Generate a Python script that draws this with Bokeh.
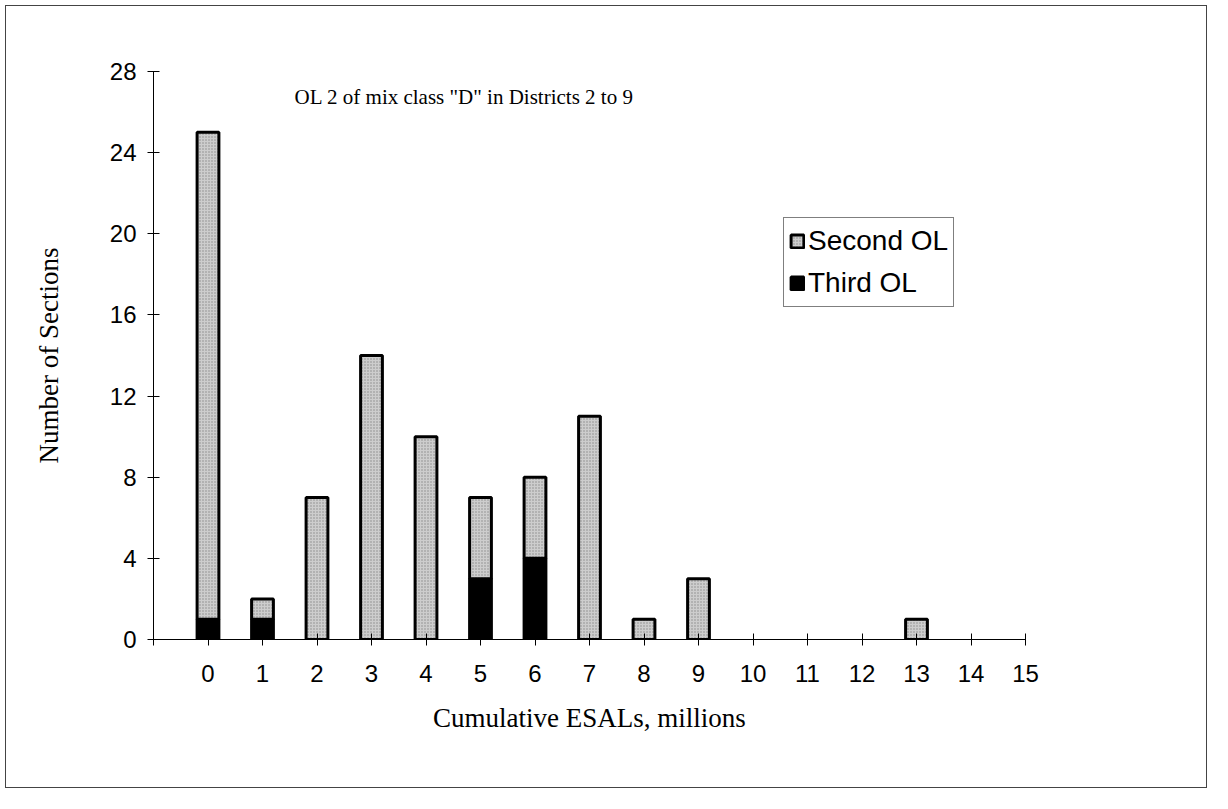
from bokeh.plotting import figure
from bokeh.models import (ColumnDataSource, Range1d, FixedTicker, Label, Legend, LegendItem)
from bokeh.embed import file_html
from bokeh.resources import INLINE

# ---- data ----
esals = [0, 1, 2, 3, 4, 5, 6, 7, 8, 9, 13]
third_ol = [1, 1, 0, 0, 0, 3, 4, 0, 0, 0, 0]
second_ol = [24, 1, 7, 14, 10, 4, 4, 11, 1, 3, 1]
x_ticks = list(range(0, 16))
y_ticks = [0, 4, 8, 12, 16, 20, 24, 28]
title_text = 'OL 2 of mix class "D" in Districts 2 to 9'
x_label = "Cumulative ESALs, millions"
y_label = "Number of Sections"

src = ColumnDataSource(dict(x=esals, third=third_ol, second=second_ol))

M = 6
W, H = 1200, 781
p = figure(width=W, height=H, output_backend="svg", toolbar_location=None,
           x_range=Range1d(-1, 15), y_range=Range1d(0, 28),
           min_border_left=153 - M, min_border_right=(W + M) - 1025,
           min_border_top=71 - M, min_border_bottom=(H + M) - 639)
p.margin = (M, M, M, M)
p.outline_line_color = None
p.xgrid.visible = False
p.ygrid.visible = False
p.styles = {"outline": "1px solid #444", "outline-offset": "0px"}

renderers = p.vbar_stack(["third", "second"], x="x", width=0.40, source=src,
                         fill_color=["black", "#cdcdcd"], line_color="black",
                         line_width=3)
r_second = renderers[1]
r_second.glyph.hatch_pattern = "dot"
r_second.glyph.hatch_color = "#8a8a8a"
r_second.glyph.hatch_scale = 3
r_second.glyph.hatch_weight = 1

legend = Legend(items=[LegendItem(label="Second OL", renderers=[renderers[1]]),
                       LegendItem(label="Third OL", renderers=[renderers[0]])],
                location=(630, 332))
legend.label_text_font = "Liberation Sans"
legend.label_text_font_size = "28px"
legend.label_text_color = "black"
legend.glyph_width = 16
legend.glyph_height = 16
legend.label_standoff = 3
legend.label_height = 36
legend.spacing = 6
legend.padding = 5
legend.margin = 0
legend.border_line_color = "black"
legend.border_line_width = 1
legend.background_fill_alpha = 1
p.add_layout(legend)

# axes
for ax in (p.xaxis[0], p.yaxis[0]):
    ax.axis_line_color = "black"
    ax.major_tick_line_color = "black"
    ax.minor_tick_line_color = None
    ax.major_tick_in = 6
    ax.major_tick_out = 6
    ax.major_label_text_font = "Liberation Sans"
    ax.major_label_text_font_size = "24px"
    ax.major_label_text_color = "black"
    ax.axis_label_text_font = "Liberation Serif"
    ax.axis_label_text_font_size = "27px"
    ax.axis_label_text_font_style = "normal"
    ax.axis_label_text_color = "black"

p.xaxis.ticker = FixedTicker(ticks=[-1] + x_ticks)
p.xaxis.major_label_overrides = {-1: ""}
p.xaxis.major_label_standoff = 19
p.xaxis.axis_label = x_label
p.xaxis.axis_label_standoff = 18

p.yaxis.ticker = FixedTicker(ticks=y_ticks)
p.yaxis.major_label_standoff = 11
p.yaxis.axis_label = y_label
p.yaxis.axis_label_standoff = 43

p.add_layout(Label(x=4.7, y=26.75, text=title_text, text_align="center",
                   text_baseline="middle", text_font="Liberation Serif",
                   text_font_size="21px", text_color="black"))

open("out.html", "w").write(file_html(p, INLINE))
